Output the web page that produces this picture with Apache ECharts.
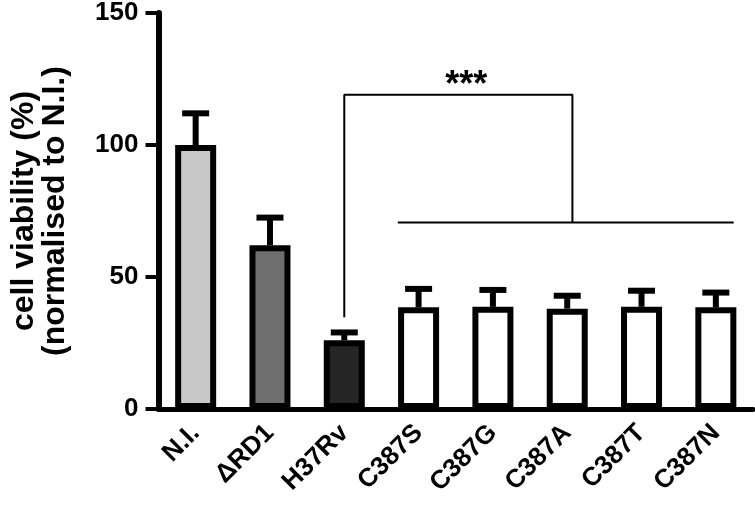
<!DOCTYPE html>
<html><head><meta charset="utf-8">
<script src="https://cdn.jsdelivr.net/npm/echarts@6/dist/echarts.min.js"></script>
<style>html,body{margin:0;padding:0;background:#fff}#c{width:755px;height:505px}</style>
</head><body><div id="c"></div>
<script>
const categories = ['N.I.', 'ΔRD1', 'H37Rv', 'C387S', 'C387G', 'C387A', 'C387T', 'C387N'];
const means = [100, 62, 26, 38.5, 38.7, 38, 38.7, 38.5];
const errTops = [112, 72.5, 29, 45.5, 45.1, 42.9, 44.8, 44.1];
const fillColors = ['#c8c8c8', '#6e6e6e', '#262626', '#ffffff', '#ffffff', '#ffffff', '#ffffff', '#ffffff'];
const yTicks = [0, 50, 100, 150];
const bracketUpper = [[2, 34.8], [2, 119], [5.07, 119], [5.07, 70.6]];
const bracketLower = [[2.72, 70.6], [7.24, 70.6]];
const starsPos = [[3.64, 122.5]];
const yName = 'cell viability (%)\n(normalised to N.I.)';

const FONT = 'Liberation Sans, Arial, Helvetica, sans-serif';
const chart = echarts.init(document.getElementById('c'), null, {renderer: 'canvas'});

const barData = means.map((v, i) => ({value: v, itemStyle: {color: fillColors[i]}}));
const errData = means.map((v, i) => [i, v, errTops[i]]);

chart.setOption({
  animation: false,
  backgroundColor: '#fff',
  grid: {left: 158, right: 2, top: 12, bottom: 96, containLabel: false},
  xAxis: [{
    type: 'category',
    data: categories,
    boundaryGap: true,
    axisLine: {show: true, onZero: false, lineStyle: {color: '#000', width: 5}},
    axisTick: {show: false},
    axisLabel: {rotate: 45, margin: 20, color: '#000', fontSize: 26, fontWeight: 'bold', fontFamily: FONT, interval: 0},
    splitLine: {show: false}
  }, {
    type: 'value', min: -0.5, max: 7.5, show: false
  }],
  yAxis: {
    type: 'value',
    min: yTicks[0], max: yTicks[yTicks.length - 1], interval: 50,
    axisLine: {show: true, onZero: false, lineStyle: {color: '#000', width: 6}},
    axisTick: {show: true, length: 13, lineStyle: {color: '#000', width: 4}},
    axisLabel: {margin: 20, color: '#000', fontSize: 26, fontWeight: 'bold', fontFamily: FONT},
    splitLine: {show: false},
    name: yName,
    nameLocation: 'middle',
    nameRotate: 90,
    nameGap: 88,
    nameTextStyle: {color: '#000', fontSize: 32, fontWeight: 'bold', fontFamily: FONT, lineHeight: 31, align: 'center'}
  },
  series: [{
    type: 'bar',
    data: barData,
    barWidth: 41,
    itemStyle: {borderColor: '#000', borderWidth: 6},
    z: 2
  }, {
    type: 'custom',
    data: errData,
    z: 3,
    renderItem: function (params, api) {
      const i = api.value(0);
      const top = api.coord([i, api.value(1)]);
      const cap = api.coord([i, api.value(2)]);
      return {type: 'group', children: [
        {type: 'line', shape: {x1: top[0], y1: top[1], x2: cap[0], y2: cap[1]}, style: {stroke: '#000', lineWidth: 6}},
        {type: 'line', shape: {x1: cap[0] - 13.5, y1: cap[1], x2: cap[0] + 13.5, y2: cap[1]}, style: {stroke: '#000', lineWidth: 6}}
      ]};
    }
  }, {
    type: 'line', xAxisIndex: 1, data: bracketUpper, symbol: 'none',
    lineStyle: {color: '#000', width: 2}, z: 4
  }, {
    type: 'line', xAxisIndex: 1, data: bracketLower, symbol: 'none',
    lineStyle: {color: '#000', width: 2}, z: 4
  }, {
    type: 'scatter', xAxisIndex: 1, data: starsPos, symbolSize: 0,
    itemStyle: {opacity: 1, color: '#000'},
    label: {show: true, formatter: '***', position: 'inside', color: '#000', opacity: 1, fontSize: 36, fontWeight: 'bold', fontFamily: FONT},
    z: 4
  }]
});
</script></body></html>
